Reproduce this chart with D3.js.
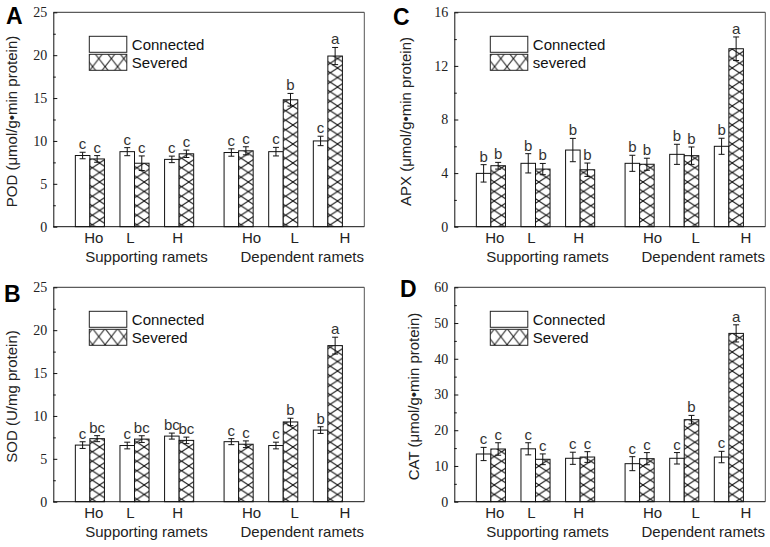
<!DOCTYPE html>
<html><head><meta charset="utf-8">
<script src="https://cdn.jsdelivr.net/npm/d3@7"></script>
<style>body{margin:0;background:#fff}</style>
</head><body>
<script>
// ---------- data ----------
const levels = ["Ho", "L", "H"];
const groups = ["Supporting ramets", "Dependent ramets"];

const podConnected    = [8.3, 8.75, 7.85, 8.65, 8.75, 10.0];
const podConnectedErr = [0.38, 0.47, 0.38, 0.43, 0.5, 0.55];
const podSevered      = [7.9, 7.4, 8.5, 8.85, 14.8, 19.9];
const podSeveredErr   = [0.39, 0.85, 0.43, 0.47, 0.74, 1.0];
const podConnLetters  = ["c","c","c","c","c","c"];
const podSevLetters   = ["c","c","c","c","b","a"];

const sodConnected    = [6.6, 6.55, 7.65, 7.0, 6.55, 8.35];
const sodConnectedErr = [0.39, 0.39, 0.35, 0.35, 0.39, 0.39];
const sodSevered      = [7.35, 7.3, 7.15, 6.7, 9.3, 18.2];
const sodSeveredErr   = [0.35, 0.39, 0.38, 0.39, 0.43, 0.98];
const sodConnLetters  = ["c","c","bc","c","c","b"];
const sodSevLetters   = ["bc","bc","bc","c","b","a"];

const apxConnected    = [3.98, 4.73, 5.72, 4.73, 5.4, 6.0];
const apxConnectedErr = [0.65, 0.72, 0.87, 0.6, 0.75, 0.6];
const apxSevered      = [4.55, 4.3, 4.25, 4.66, 5.3, 13.28];
const apxSeveredErr   = [0.25, 0.42, 0.5, 0.45, 0.65, 0.88];
const apxConnLetters  = ["b","b","b","b","b","b"];
const apxSevLetters   = ["b","b","b","b","b","a"];

const catConnected    = [13.35, 14.8, 12.15, 10.64, 12.15, 12.5];
const catConnectedErr = [1.85, 1.7, 1.7, 1.96, 1.6, 1.6];
const catSevered      = [14.75, 11.87, 12.5, 12.04, 22.95, 47.1];
const catSeveredErr   = [1.75, 1.5, 1.5, 1.7, 1.2, 2.4];
const catConnLetters  = ["c","c","c","c","c","c"];
const catSevLetters   = ["c","c","c","c","b","a"];

const podTicks = [0, 5, 10, 15, 20, 25];
const sodTicks = [0, 5, 10, 15, 20, 25];
const apxTicks = [0, 4, 8, 12, 16];
const catTicks = [0, 10, 20, 30, 40, 50, 60];

// ---------- layout ----------
const W = 311, H = 214.4;
const sans = "'Liberation Sans', Arial, sans-serif";
const serif = "'Liberation Serif', 'Times New Roman', serif";
const labelShift = [4, -4, -1.5, 13, 11.5, 17];

const panels = [
  {tag:"A", left:53.3, top:12.3, tagX:6, tagY:24, title:"POD (\u03bcmol/g\u2022min protein)", titleDx:-42,
   conn:podConnected, connErr:podConnectedErr, sev:podSevered, sevErr:podSeveredErr,
   cl:podConnLetters, sl:podSevLetters, ticks:podTicks, legend:["Connected","Severed"]},
  {tag:"B", left:53.3, top:287.3, tagX:4, tagY:302, title:"SOD (U/mg protein)", titleDx:-42,
   conn:sodConnected, connErr:sodConnectedErr, sev:sodSevered, sevErr:sodSeveredErr,
   cl:sodConnLetters, sl:sodSevLetters, ticks:sodTicks, legend:["Connected","Severed"]},
  {tag:"C", left:454.3, top:12.3, tagX:393, tagY:25, title:"APX (\u03bcmol/g\u2022min protein)", titleDx:-49,
   conn:apxConnected, connErr:apxConnectedErr, sev:apxSevered, sevErr:apxSeveredErr,
   cl:apxConnLetters, sl:apxSevLetters, ticks:apxTicks, legend:["Connected","severed"]},
  {tag:"D", left:454.3, top:287.3, tagX:400, tagY:297, title:"CAT (\u03bcmol/g\u2022min protein)", titleDx:-41,
   conn:catConnected, connErr:catConnectedErr, sev:catSevered, sevErr:catSeveredErr,
   cl:catConnLetters, sl:catSevLetters, ticks:catTicks, legend:["Connected","Severed"]}
];

const svg = d3.select("body").append("svg").attr("width", 770).attr("height", 547);
const defs = svg.append("defs");
let patId = 0;
function hatch(x0, y0, w, h) {
  const id = "hp" + (patId++);
  const p = defs.append("pattern").attr("id", id).attr("patternUnits", "userSpaceOnUse")
    .attr("x", x0).attr("y", y0).attr("width", w).attr("height", h);
  p.append("rect").attr("width", w).attr("height", h).attr("fill", "#fff");
  p.append("path").attr("d", `M0,0L${w},${h}M${w},0L0,${h}`)
    .attr("stroke", "#111").attr("stroke-width", 1).attr("fill", "none");
  return `url(#${id})`;
}

const cats = groups.flatMap((g, gi) => levels.map((l, li) => ({group:g, level:l, pos: gi * (10/3) + li + 1})));
const bw = 0.326;

panels.forEach(p => {
  const x = d3.scaleLinear().domain([0.18, 7.15]).range([0, W]);
  const y = d3.scaleLinear().domain([0, d3.max(p.ticks)]).range([H, 0]);
  const g = svg.append("g").attr("transform", `translate(${p.left},${p.top})`);

  // bars
  cats.forEach((c, i) => {
    const series = [
      {v:p.conn[i], e:p.connErr[i], lt:p.cl[i], x0:c.pos - bw, x1:c.pos, hatched:false},
      {v:p.sev[i], e:p.sevErr[i], lt:p.sl[i], x0:c.pos, x1:c.pos + bw, hatched:true}
    ];
    series.forEach(s => {
      const bx = x(s.x0), bwid = x(s.x1) - x(s.x0);
      const fill = s.hatched ? hatch(p.left + bx, p.top + H, bwid, 9.5) : "#fff";
      g.append("rect").attr("x", bx).attr("y", y(s.v)).attr("width", bwid).attr("height", H - y(s.v))
        .attr("fill", fill).attr("stroke", "#111").attr("stroke-width", 1);
      const cx = bx + bwid / 2;
      g.append("line").attr("x1", cx).attr("x2", cx).attr("y1", y(s.v - s.e)).attr("y2", y(s.v + s.e))
        .attr("stroke", "#111").attr("stroke-width", 1);
      [s.v - s.e, s.v + s.e].forEach(val => {
        g.append("line").attr("x1", cx - 3).attr("x2", cx + 3).attr("y1", y(val)).attr("y2", y(val))
          .attr("stroke", "#111").attr("stroke-width", 1);
      });
      g.append("text").attr("x", cx).attr("y", y(s.v + s.e) - 3).attr("text-anchor", "middle")
        .attr("font-family", sans).attr("font-size", 15).attr("fill", "#333").text(s.lt);
    });
  });

  // frame
  g.append("line").attr("x1", 0).attr("x2", W).attr("y1", 0).attr("y2", 0).attr("stroke", "#333");
  g.append("line").attr("x1", W).attr("x2", W).attr("y1", 0).attr("y2", H).attr("stroke", "#555");
  g.append("line").attr("x1", 0).attr("x2", W).attr("y1", H).attr("y2", H).attr("stroke", "#111");

  // y axis
  const step = p.ticks[1] - p.ticks[0];
  const minor = p.ticks.slice(0, -1).map(t => t + step / 2);
  const ax = g.append("g").call(d3.axisLeft(y).tickValues(p.ticks).tickSize(-4).tickPadding(6).tickSizeOuter(0));
  ax.select(".domain").attr("stroke", "#111");
  ax.selectAll(".tick line").attr("stroke", "#111");
  ax.selectAll("text").attr("font-family", serif).attr("font-size", 14).attr("fill", "#222");
  const mx = g.append("g").call(d3.axisLeft(y).tickValues(minor).tickSize(-2.5).tickFormat("").tickSizeOuter(0));
  mx.select(".domain").remove();
  mx.selectAll(".tick line").attr("stroke", "#111");

  // x labels
  cats.forEach((c, i) => {
    g.append("text").attr("x", x(c.pos) + labelShift[i]).attr("y", H + 16.5).attr("text-anchor", "middle")
      .attr("font-family", sans).attr("font-size", 15).attr("fill", "#222").text(c.level);
  });
  const groupShift = [12, 19];
  groups.forEach((gn, gi) => {
    g.append("text").attr("x", x(gi * (10/3) + 2) + groupShift[gi]).attr("y", H + 35.5).attr("text-anchor", "middle")
      .attr("font-family", sans).attr("font-size", 15).attr("fill", "#222").text(gn);
  });

  // y title
  g.append("text").attr("transform", `translate(${p.titleDx},${H/2 + 2}) rotate(-90)`).attr("text-anchor", "middle")
    .attr("dy", "0.35em").attr("font-family", sans).attr("font-size", 15).attr("fill", "#222").text(p.title);

  // legend
  const lx = 36, ly = 24, lw = 37.5, lh = 16;
  p.legend.forEach((name, k) => {
    const by = ly + k * (lh + 2);
    const fill = k === 1 ? hatch(p.left + lx, p.top + by, lw / 3, lh) : "#fff";
    g.append("rect").attr("x", lx).attr("y", by).attr("width", lw).attr("height", lh)
      .attr("fill", fill).attr("stroke", "#222").attr("stroke-width", 1);
    g.append("text").attr("x", lx + lw + 5).attr("y", by + lh / 2 + 5.5)
      .attr("font-family", sans).attr("font-size", 15).attr("fill", "#111").text(name);
  });

  // panel tag
  svg.append("text").attr("x", p.tagX).attr("y", p.tagY).attr("font-family", sans).attr("font-weight", "bold")
    .attr("font-size", 23).attr("fill", "#000").text(p.tag);
});
</script>
</body></html>
